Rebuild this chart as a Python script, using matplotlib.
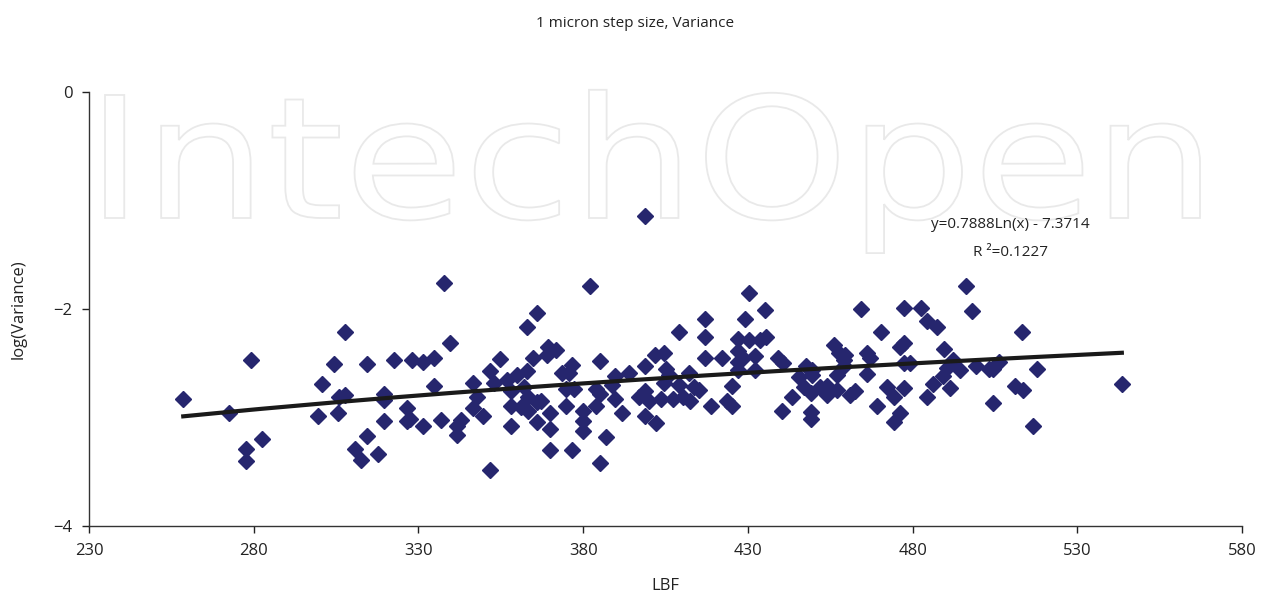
import numpy as np
import matplotlib
matplotlib.use('Agg')
import matplotlib.pyplot as plt
from matplotlib.textpath import TextPath
from matplotlib.patches import PathPatch
from matplotlib.font_manager import FontProperties
from matplotlib.transforms import Affine2D, IdentityTransform

# data (LBF vs log of variance)
lbf = [279.3, 258.6, 272.4, 282.5, 277.5, 277.5, 307.6, 304.5, 314.5, 322.7,
       327.9, 300.8, 305.9, 307.7, 319.5, 319.5, 299.5, 305.7, 319.5, 326.4,
       326.4, 327.4, 314.5, 310.8, 312.7, 317.7, 337.8, 366.1, 362.8, 339.7,
       331.5, 334.7, 354.7, 351.6, 364.7, 362.8, 359.9, 334.7, 346.7, 352.9,
       357.0, 347.9, 358.0, 362.0, 346.5, 358.0, 361.0, 363.1, 363.2, 349.7,
       366.1, 336.8, 331.5, 342.8, 341.8, 341.8, 358.0, 366.1, 351.6, 398.9,
       382.0, 369.4, 371.6, 369.1, 385.0, 376.7, 373.7, 375.7, 389.8, 393.9,
       398.9, 401.8, 404.5, 374.9, 377.2, 383.8, 385.0, 388.8, 367.1, 374.9,
       383.8, 389.8, 396.9, 398.9, 399.9, 403.5, 369.8, 379.9, 391.9, 379.9,
       369.8, 398.9, 402.0, 379.9, 369.8, 376.7, 386.8, 385.0, 430.3, 435.3,
       417.1, 429.0, 409.0, 417.1, 426.9, 430.3, 433.8, 435.6, 417.1, 422.0,
       426.9, 428.6, 432.0, 439.1, 440.7, 405.0, 426.9, 426.9, 432.1, 406.0,
       412.1, 404.5, 409.0, 413.6, 415.1, 425.2, 407.3, 410.4, 412.4, 418.9,
       423.7, 425.2, 440.4, 443.5, 464.4, 477.5, 470.5, 456.1, 477.5, 476.3,
       457.6, 459.4, 459.1, 466.2, 467.2, 477.3, 479.3, 459.1, 447.5, 449.3,
       445.4, 457.1, 466.2, 449.5, 447.0, 449.0, 452.0, 454.0, 454.5, 454.0,
       457.1, 461.1, 462.6, 472.2, 474.2, 477.3, 469.2, 449.0, 449.0, 476.3,
       474.2, 496.3, 482.6, 498.1, 484.4, 487.4, 513.3, 489.4, 492.3, 490.4,
       494.3, 499.3, 503.1, 504.4, 506.1, 517.7, 489.2, 486.2, 491.2, 511.2,
       513.5, 484.4, 504.4, 516.5, 543.5]
log_var = [-2.47, -2.83, -2.96, -3.20, -3.29, -3.40, -2.21, -2.51, -2.51, -2.47,
           -2.47, -2.69, -2.81, -2.79, -2.78, -2.84, -2.99, -2.96, -3.03, -2.91,
           -3.03, -3.01, -3.17, -3.29, -3.39, -3.34, -1.76, -2.04, -2.17, -2.31,
           -2.49, -2.45, -2.46, -2.57, -2.45, -2.57, -2.61, -2.71, -2.68, -2.68,
           -2.65, -2.81, -2.76, -2.72, -2.91, -2.89, -2.90, -2.81, -2.94, -2.99,
           -2.86, -3.02, -3.08, -3.02, -3.08, -3.16, -3.08, -3.04, -3.48, -1.14,
           -1.79, -2.35, -2.38, -2.42, -2.48, -2.52, -2.59, -2.59, -2.62, -2.59,
           -2.53, -2.42, -2.41, -2.74, -2.74, -2.74, -2.78, -2.70, -2.85, -2.89,
           -2.89, -2.83, -2.81, -2.76, -2.85, -2.83, -2.96, -2.94, -2.96, -3.03,
           -3.11, -2.99, -3.05, -3.12, -3.30, -3.30, -3.18, -3.42, -1.85, -2.01,
           -2.09, -2.09, -2.21, -2.26, -2.28, -2.29, -2.29, -2.26, -2.45, -2.45,
           -2.39, -2.45, -2.43, -2.45, -2.50, -2.55, -2.49, -2.56, -2.56, -2.61,
           -2.59, -2.68, -2.70, -2.72, -2.75, -2.71, -2.83, -2.81, -2.85, -2.89,
           -2.85, -2.89, -2.94, -2.81, -2.00, -1.99, -2.21, -2.33, -2.31, -2.35,
           -2.41, -2.42, -2.47, -2.41, -2.45, -2.50, -2.50, -2.53, -2.53, -2.56,
           -2.63, -2.61, -2.60, -2.61, -2.72, -2.77, -2.72, -2.71, -2.76, -2.79,
           -2.75, -2.79, -2.76, -2.72, -2.81, -2.73, -2.89, -2.95, -3.01, -2.96,
           -3.04, -1.79, -1.99, -2.02, -2.11, -2.17, -2.21, -2.37, -2.47, -2.54,
           -2.56, -2.53, -2.55, -2.55, -2.49, -2.55, -2.62, -2.69, -2.73, -2.71,
           -2.75, -2.81, -2.87, -3.08, -2.69]

# excel log trendline
coef_a = 0.7888
coef_b = -7.3714
eq_text = 'y=0.7888Ln(x) - 7.3714'
r2_text = 'R \u00b2=0.1227'

xticks = [230, 280, 330, 380, 430, 480, 530, 580]
yticks = [0, -2, -4]

plt.rcParams['font.family'] = ['Open Sans', 'DejaVu Sans']

W, H = 1261, 599
fig = plt.figure(figsize=(W/100, H/100), dpi=100)
ax = fig.add_axes([0.0706, 0.1219, 0.9144, 0.7245])

# faint outlined watermark, stretched to the width of the original
tp = TextPath((0, 0), 'IntechOpen', size=1, prop=FontProperties(family='DejaVu Sans'))
ext = tp.get_extents()
cap_px = 123 / 0.729            # cap height in the original ~123 px
sx = 1095 / (ext.width * cap_px)
wm_tr = Affine2D().translate(-ext.x0, 0).scale(cap_px * sx, cap_px).translate(105, H - 218)
wm = PathPatch(wm_tr.transform_path(tp), transform=IdentityTransform(),
               facecolor='white', edgecolor='#e9e9e9', lw=1.3, zorder=0, clip_on=False)
ax.add_artist(wm)

ax.plot(lbf, log_var, ls='none', marker='D', ms=8, color='#26266e', mec='#26266e', zorder=3)

xs = np.sort(np.array(lbf))
ax.plot(xs, coef_a*np.log(xs) + coef_b, color='#1a1a1a', lw=3, zorder=4)

ax.text(509.6, -1.22, eq_text, ha='center', va='center', fontsize=11, color='#222222')
ax.text(509.6, -1.48, r2_text, ha='center', va='center', fontsize=11, color='#222222')

ax.set_xlim(230, 580)
ax.set_ylim(-4, 0)
ax.set_xticks(xticks)
ax.set_yticks(yticks)
ax.tick_params(labelsize=12, colors='#222222', length=5, width=1, pad=7)
for s in ['top', 'right']:
    ax.spines[s].set_visible(False)
for s in ['left', 'bottom']:
    ax.spines[s].set_color('#333333')
    ax.spines[s].set_linewidth(1)

ax.set_xlabel('LBF', fontsize=12, color='#222222', labelpad=14)
ax.set_ylabel('log(Variance)', fontsize=12, color='#222222', labelpad=19)
fig.text(0.5035, 0.96, '1 micron step size, Variance', ha='center', va='center',
         fontsize=11, color='#222222')

fig.savefig('out.png', dpi=100)
